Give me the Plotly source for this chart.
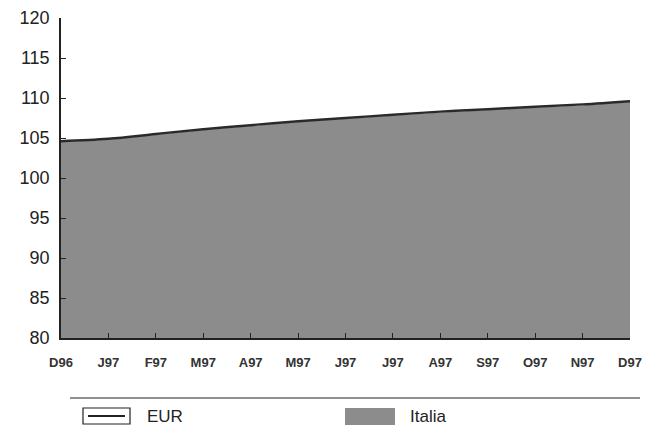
import plotly.graph_objects as go

months = ["D96", "J97", "F97", "M97", "A97", "M97", "J97", "J97", "A97", "S97", "O97", "N97", "D97"]
eur = [104.6, 104.9, 105.5, 106.1, 106.6, 107.1, 107.5, 107.9, 108.3, 108.6, 108.9, 109.2, 109.6]
italia = [104.5, 104.8, 105.4, 106.0, 106.5, 107.0, 107.4, 107.8, 108.2, 108.5, 108.8, 109.1, 109.5]
y_ticks = [80, 85, 90, 95, 100, 105, 110, 115, 120]

x = list(range(len(months)))
FONT = "Liberation Sans, Arial, sans-serif"
GREY = "#8c8c8c"

fig = go.Figure()
fig.add_trace(go.Scatter(x=x, y=italia, mode="lines", fill="tozeroy",
                         fillcolor=GREY, line=dict(width=0, color=GREY),
                         line_shape="spline", name="Italia", showlegend=False))
fig.add_trace(go.Scatter(x=x, y=eur, mode="lines", line=dict(width=2.4, color="#2a2a2a"),
                         line_shape="spline", name="EUR", showlegend=False))

L, R, T, B = 61, 26, 18, 94
W, H = 656, 432
pw, ph = W - L - R, H - T - B

def px(xp):
    return (xp - L) / pw

def py(yp):
    return (H - B - yp) / ph

shapes = [
    dict(type="line", xref="paper", yref="paper", x0=px(70), x1=px(640), y0=py(398), y1=py(398),
         line=dict(color="#222", width=1.2)),
    dict(type="rect", xref="paper", yref="paper", x0=px(83), x1=px(130), y0=py(408), y1=py(424),
         line=dict(color="#222", width=1.2), fillcolor="white"),
    dict(type="line", xref="paper", yref="paper", x0=px(88), x1=px(125), y0=py(416), y1=py(416),
         line=dict(color="#222", width=2)),
    dict(type="rect", xref="paper", yref="paper", x0=px(345), x1=px(395), y0=py(408), y1=py(425),
         line=dict(width=0), fillcolor=GREY),
]
annotations = [
    dict(text="EUR", xref="paper", yref="paper", x=px(145), y=py(416), xanchor="left", yanchor="middle",
         showarrow=False, font=dict(family=FONT, size=17, color="#222")),
    dict(text="Italia", xref="paper", yref="paper", x=px(408), y=py(416), xanchor="left", yanchor="middle",
         showarrow=False, font=dict(family=FONT, size=17, color="#222")),
]

fig.update_layout(
    width=W, height=H,
    margin=dict(l=L, r=R, t=T, b=B, autoexpand=False),
    paper_bgcolor="white", plot_bgcolor="white",
    font=dict(family=FONT, color="#222"),
    shapes=shapes, annotations=annotations,
    xaxis=dict(range=[0, 12], tickvals=x, ticktext=months, showgrid=False, zeroline=False,
               automargin=False,
               showline=True, linecolor="#222", linewidth=1.5, ticks="inside", ticklen=5,
               tickcolor="#222", tickfont=dict(size=13, family="Liberation Sans, Arial", weight="bold", color="#333"),
               ticklabelstandoff=12),
    yaxis=dict(range=[80, 120], tickvals=y_ticks, showgrid=False, zeroline=False,
               automargin=False,
               showline=True, linecolor="#222", linewidth=1.5, ticks="inside", ticklen=5,
               tickcolor="#222", tickfont=dict(size=18, color="#222"), ticklabelstandoff=6),
)

fig.write_html("out.html", config={"displayModeBar": False},
               post_script="document.body.style.margin='0';document.body.style.overflow='hidden';")
